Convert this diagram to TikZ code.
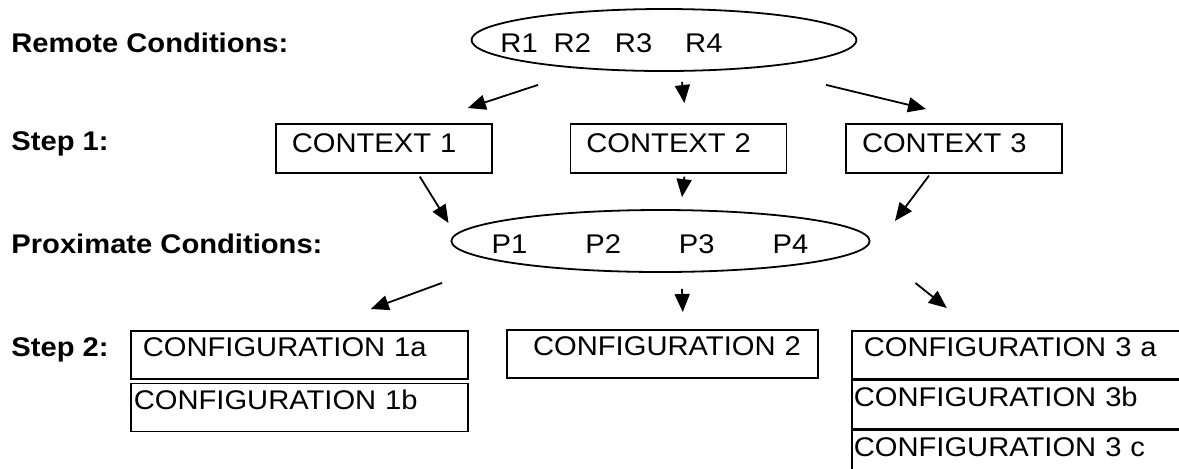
\documentclass[tikz,border=0pt]{standalone}
\usepackage{fontspec}
\setmainfont{Liberation Sans}[FakeStretch=1.08]
\usetikzlibrary{arrows.meta, positioning, shapes}

\begin{document}
\begin{tikzpicture}[
    x=0.5pt, y=-0.5pt,
    font=\fontsize{13.5}{16}\selectfont,
    cond/.style={draw, ellipse, line width=0.9pt, minimum width=192.5pt, minimum height=31pt, inner sep=0pt, text height=12pt, text depth=0pt},
    ctxbox/.style={draw, line width=0.8pt, anchor=north west, align=left, text width=92pt, inner xsep=8pt, inner ysep=1.5pt, text height=13pt, text depth=8.5pt},
    cfgbox/.style={draw, line width=0.8pt, anchor=north west, align=left, inner ysep=1.5pt, text height=11.5pt, text depth=9.5pt},
    rowlabel/.style={anchor=base west, inner sep=0pt, font=\fontsize{13.5}{16}\selectfont\bfseries},
    arrow/.style={-{Triangle[length=9pt, width=7.5pt]}, line width=0.9pt}
]

\useasboundingbox (0,0) rectangle (1179,468);
\clip (0,0) rectangle (1179,468);

% Row labels
\node (lblremote) [rowlabel] at (11,52) {Remote Conditions:};
\node (lblstep1) [rowlabel] at (11,150) {Step 1:};
\node (lblprox) [rowlabel] at (11,253) {Proximate Conditions:};
\node (lblstep2) [rowlabel] at (11,356) {Step 2:};

% Conditions
\node (remote) [cond] at (664,40) {\hspace*{-52.5pt}R1\hspace{8pt}R2\hspace{12pt}R3\hspace{16.5pt}R4};
\node (prox) [cond] at (660.5,241) {\hspace*{-10.5pt}P1\hspace{29pt}P2\hspace{29pt}P3\hspace{29pt}P4};

% Step 1 contexts
\node (ctx1) [ctxbox] at (275,123) {CONTEXT 1};
\node (ctx2) [ctxbox, right=38.5pt of ctx1] {CONTEXT 2};
\node (ctx3) [ctxbox, right=29pt of ctx2] {CONTEXT 3};

% Step 2 configurations
\node (cfg1a) [cfgbox, text width=156.5pt, inner xsep=6pt] at (130,330) {CONFIGURATION 1a};
\node (cfg1b) [cfgbox, text width=165.5pt, inner xsep=1.5pt, below=1.5pt of cfg1a] {CONFIGURATION 1b};
\node (cfg2) [cfgbox, text width=138.5pt, inner xsep=8.5pt, align=right] at (506,329) {CONFIGURATION 2};
\node (cfg3a) [cfgbox, text width=162.5pt, inner xsep=6pt] at (851,330) {CONFIGURATION 3 a};
\node (cfg3b) [cfgbox, text width=172.5pt, inner xsep=1pt, below=0pt of cfg3a] {CONFIGURATION 3b};
\node (cfg3c) [cfgbox, text width=172.5pt, inner xsep=1pt, below=0pt of cfg3b] {CONFIGURATION 3 c};

% Arrows from remote conditions
\draw[arrow] ([shift={(-126,13)}]remote.south) -- ([shift={(84,-15)}]ctx1.north);
\draw[arrow] ([shift={(18,10)}]remote.south) -- ([shift={(6,-20)}]ctx2.north);
\draw[arrow] ([shift={(162,13)}]remote.south) -- ([shift={(-28,-14)}]ctx3.north);

% Arrows into proximate conditions
\draw[arrow] ([shift={(36,3)}]ctx1.south) -- ([shift={(-2,-18)}]prox.west);
\draw[arrow] ([shift={(6,3)}]ctx2.south) -- ([shift={(21.5,-12)}]prox.north);
\draw[arrow] ([shift={(-25,2)}]ctx3.south) -- ([shift={(24.5,-20)}]prox.east);

% Arrows into configurations
\draw[arrow] ([shift={(-218.5,10)}]prox.south) -- ([shift={(71.5,-21)}]cfg1a.north);
\draw[arrow] ([shift={(21.5,16)}]prox.south) -- ([shift={(20.5,-17)}]cfg2.north);
\draw[arrow] ([shift={(45,42)}]prox.east) -- ([shift={(-79.5,-22)}]cfg3a.north);

\end{tikzpicture}
\end{document}
